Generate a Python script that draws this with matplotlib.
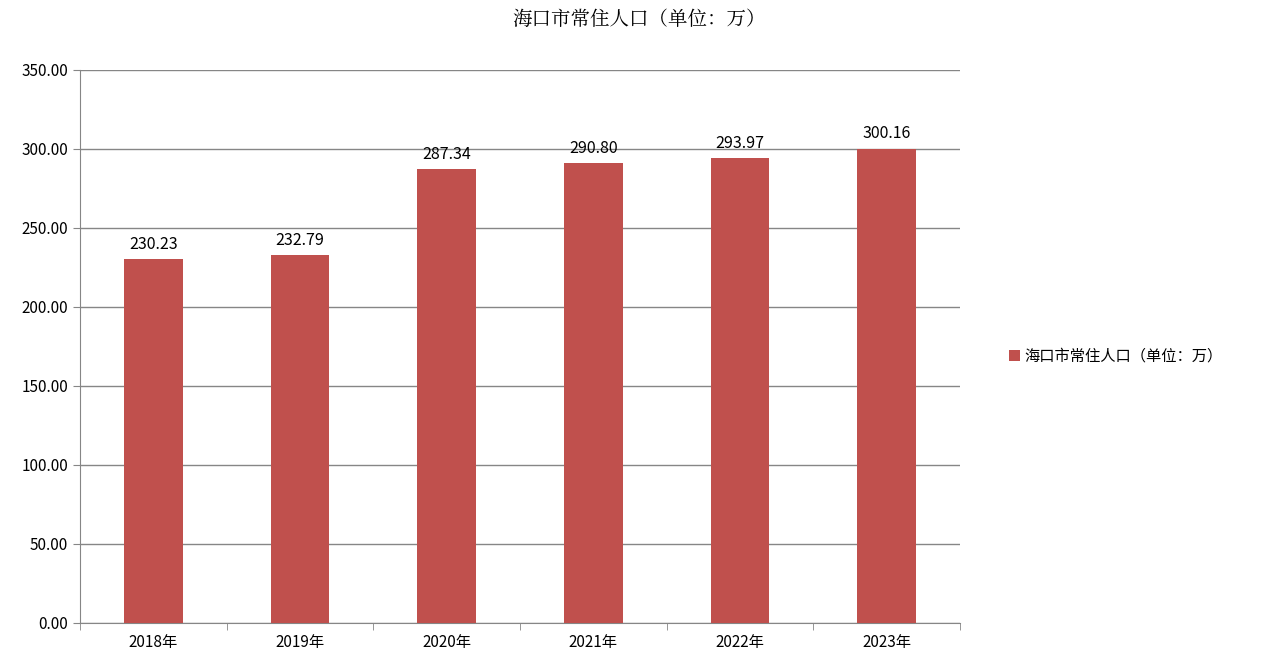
import matplotlib.pyplot as plt
import numpy as np

plt.rcParams['font.family'] = ['Noto Sans CJK SC', 'DejaVu Sans']

years = ['2018年', '2019年', '2020年', '2021年', '2022年', '2023年']
population = [230.23, 232.79, 287.34, 290.80, 293.97, 300.16]
series_name = '海口市常住人口（单位：万）'

fig = plt.figure(figsize=(12.79, 6.68), dpi=100)
ax = fig.add_axes([0.0625, 0.0674, 0.688, 0.828])

x = np.arange(len(years))
bars = ax.bar(x, population, width=0.4, color='#C0504D', label=series_name, zorder=3)
for xi, v in zip(x, population):
    ax.text(xi, v + 4, f'{v:.2f}', ha='center', va='bottom', fontsize=11.5, color='#000000')

ax.set_xlim(-0.5, len(years) - 0.5)
ax.set_ylim(0, 350)
ax.set_yticks(np.arange(0, 351, 50))
ax.set_yticklabels([f'{t:.2f}' for t in np.arange(0, 351, 50)], fontsize=11)
ax.set_xticks(x)
ax.set_xticklabels(years, fontsize=11)
ax.set_xticks(np.arange(-0.5, len(years), 1), minor=True)
ax.tick_params(axis='x', which='major', length=0, pad=8)
ax.tick_params(axis='x', which='minor', length=5, color='#868686')
ax.tick_params(axis='y', length=5, color='#868686')
ax.grid(axis='y', color='#868686', linewidth=1, zorder=0)
for s in ['top', 'right']:
    ax.spines[s].set_visible(False)
for s in ['left', 'bottom']:
    ax.spines[s].set_color('#868686')

fig.suptitle(series_name, y=0.985, fontsize=14, family=['Noto Serif CJK SC', 'Noto Sans CJK SC'])
fig.legend(loc='center left', bbox_to_anchor=(0.778, 0.467), frameon=False,
           fontsize=11, handlelength=0.7, handleheight=0.7, handletextpad=0.3)

fig.savefig('out.png', dpi=100)
